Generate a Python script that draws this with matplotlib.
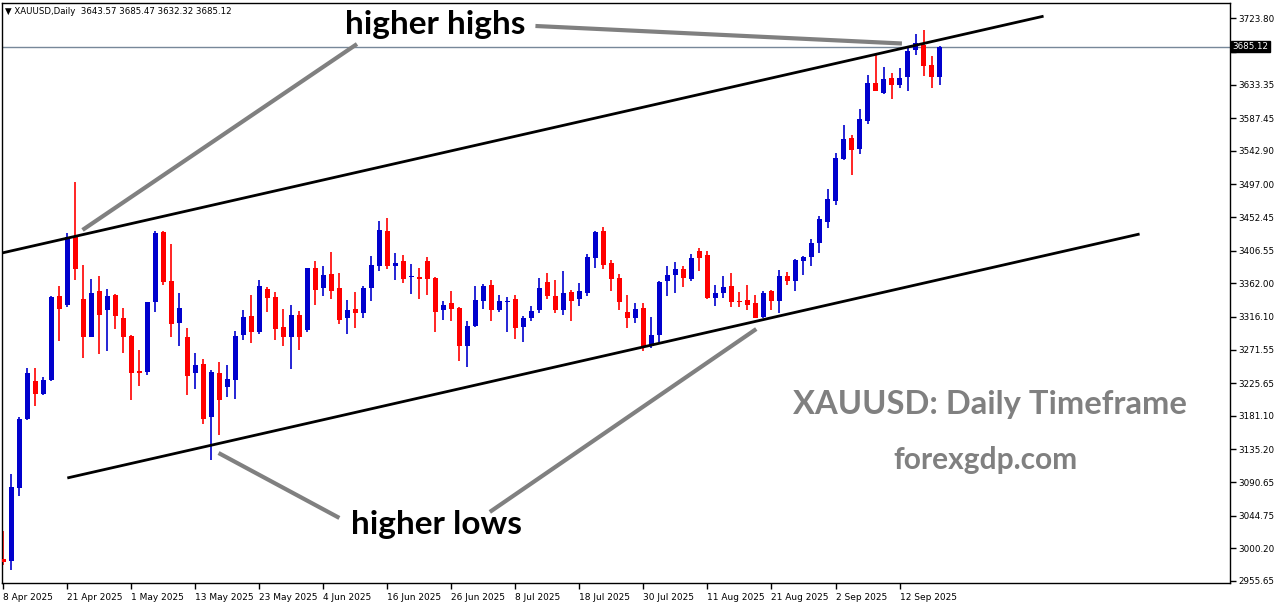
import matplotlib
matplotlib.use("Agg")
import matplotlib.pyplot as plt
import numpy as np

# XAUUSD daily candles, 8 Apr 2025 .. 19 Sep 2025
opens = [2986, 2983, 3083, 3177, 3229, 3211, 3230, 3345, 3332, 3425,
         3341, 3289, 3352, 3326, 3346, 3315, 3290, 3242, 3241, 3336,
         3432, 3365, 3308, 3289, 3239, 3252, 3180, 3240, 3220, 3230,
         3291, 3318, 3295, 3354, 3343, 3302, 3288, 3319, 3298, 3383,
         3355, 3375, 3356, 3315, 3327, 3322, 3356, 3385, 3433, 3386,
         3393, 3370, 3371, 3393, 3369, 3325, 3335, 3328, 3276, 3304,
         3338, 3360, 3326, 3336, 3341, 3303, 3315, 3325, 3364, 3345,
         3325, 3350, 3341, 3349, 3397, 3433, 3390, 3369, 3323, 3315,
         3328, 3276, 3291, 3365, 3373, 3382, 3368, 3406, 3401, 3342,
         3349, 3358, 3338, 3339, 3335, 3316, 3352, 3338, 3372, 3365,
         3393, 3398, 3417, 3446, 3475, 3532, 3560, 3546, 3583, 3636,
         3622, 3642, 3633, 3644, 3680, 3687, 3660, 3643.57]
highs = [3024, 3102, 3180, 3246, 3246, 3234, 3345, 3358, 3431, 3500,
         3387, 3368, 3372, 3354, 3348, 3328, 3291, 3271, 3337, 3434,
         3434, 3416, 3349, 3301, 3267, 3259, 3244, 3254, 3251, 3297,
         3326, 3346, 3367, 3357, 3350, 3327, 3332, 3324, 3383, 3393,
         3386, 3405, 3376, 3339, 3350, 3358, 3399, 3447, 3451, 3403,
         3401, 3388, 3383, 3398, 3371, 3338, 3352, 3329, 3311, 3358,
         3361, 3367, 3346, 3343, 3346, 3318, 3331, 3369, 3376, 3367,
         3379, 3353, 3362, 3402, 3433, 3439, 3394, 3375, 3346, 3335,
         3335, 3316, 3365, 3386, 3391, 3386, 3402, 3410, 3406, 3360,
         3372, 3376, 3350, 3360, 3346, 3352, 3353, 3380, 3377, 3395,
         3399, 3423, 3454, 3491, 3540, 3578, 3565, 3600, 3646, 3674,
         3657, 3649, 3656, 3685, 3702, 3708, 3672, 3685.47]
lows = [2978, 2971, 3072, 3176, 3194, 3210, 3228, 3283, 3329, 3367,
        3260, 3288, 3265, 3269, 3300, 3267, 3202, 3222, 3237, 3323,
        3360, 3289, 3276, 3209, 3217, 3170, 3121, 3155, 3207, 3204,
        3285, 3280, 3293, 3323, 3285, 3277, 3245, 3271, 3296, 3333,
        3344, 3340, 3307, 3293, 3301, 3315, 3338, 3379, 3382, 3366,
        3363, 3348, 3340, 3346, 3296, 3312, 3310, 3256, 3248, 3303,
        3327, 3311, 3323, 3296, 3286, 3282, 3310, 3322, 3341, 3321,
        3319, 3310, 3331, 3345, 3383, 3382, 3352, 3325, 3301, 3308,
        3269, 3274, 3282, 3345, 3349, 3357, 3365, 3379, 3341, 3331,
        3342, 3330, 3330, 3325, 3315, 3314, 3325, 3322, 3360, 3351,
        3373, 3385, 3404, 3437, 3469, 3531, 3510, 3539, 3579, 3624,
        3620, 3613, 3629, 3625, 3674, 3645, 3628, 3632.32]
closes = [2982, 3084, 3177, 3239, 3211, 3230, 3343, 3327, 3425, 3381,
          3288, 3349, 3319, 3345, 3318, 3288, 3239, 3240, 3336, 3431,
          3364, 3306, 3328, 3235, 3251, 3177, 3241, 3202, 3231, 3290,
          3316, 3295, 3358, 3342, 3300, 3289, 3319, 3289, 3383, 3353,
          3373, 3352, 3312, 3326, 3322, 3356, 3387, 3435, 3385, 3390,
          3368, 3372, 3368, 3368, 3323, 3332, 3327, 3276, 3304, 3339,
          3358, 3326, 3338, 3337, 3301, 3315, 3324, 3356, 3344, 3325,
          3349, 3338, 3352, 3398, 3432, 3387, 3368, 3337, 3314, 3327,
          3276, 3291, 3364, 3373, 3382, 3369, 3397, 3397, 3342, 3349,
          3357, 3336, 3336, 3333, 3315, 3349, 3338, 3372, 3365, 3394,
          3398, 3417, 3450, 3477, 3533, 3559, 3544, 3586, 3636, 3625,
          3641, 3633, 3642, 3679, 3690, 3659, 3643, 3685.12]

date_ticks = ["8 Apr 2025", "21 Apr 2025", "1 May 2025", "13 May 2025", "23 May 2025",
              "4 Jun 2025", "16 Jun 2025", "26 Jun 2025", "8 Jul 2025", "18 Jul 2025",
              "30 Jul 2025", "11 Aug 2025", "21 Aug 2025", "2 Sep 2025", "12 Sep 2025"]
price_ticks = [3723.80, 3677.90, 3633.35, 3587.45, 3542.90, 3497.00, 3452.45, 3406.55,
               3362.00, 3316.10, 3271.55, 3225.65, 3181.10, 3135.20, 3090.65, 3044.75,
               3000.20, 2955.65]

# channel lines (bar index, price) and pointer lines
upper_channel = ([-1, 130], [3401.3, 3726.7])
lower_channel = ([8, 142], [3096.2, 3429.3])
pointers = [([9.9, 44.2], [3434.8, 3688.7]),
            ([66.5, 112.3], [3713.3, 3689.4]),
            ([26.9, 42.0], [3130.3, 3041.6]),
            ([60.8, 94.1], [3049.8, 3299.6])]

last_price = 3685.12

fig = plt.figure(figsize=(12.76, 6.04), dpi=100)
ax = fig.add_axes([2.3 / 1276, 21 / 604, (1230 - 2.3) / 1276, (583 - 2.7) / 604])

o = np.array(opens); h = np.array(highs); l = np.array(lows); c = np.array(closes)
x = np.arange(len(o))
up = c >= o
col = np.where(up, "#0000CD", "#FF0000")

ax.vlines(x, l, h, colors=col, linewidth=1.2, zorder=2)
body_lo = np.minimum(o, c)
body_h = np.maximum(np.abs(c - o), 1.2)
ax.bar(x, body_h, bottom=body_lo, width=0.62, color=col, linewidth=0, zorder=3)

ax.axhline(last_price, color="#778899", linewidth=1, zorder=1)

ax.plot(*upper_channel, color="black", linewidth=2, zorder=4, solid_capstyle="butt")
ax.plot(*lower_channel, color="black", linewidth=2, zorder=4, solid_capstyle="butt")
for px, py in pointers:
    ax.plot(px, py, color="#808080", linewidth=3, zorder=4, solid_capstyle="butt")

font = ["Lato", "DejaVu Sans"]
ax.text(54.0, 3716, "higher highs", fontsize=24, fontweight="bold", family=font,
        ha="center", va="center", color="black", zorder=5)
ax.text(54.1, 3032, "higher lows", fontsize=24, fontweight="bold", family=font,
        ha="center", va="center", color="black", zorder=5)
ax.text(123.3, 3197, "XAUUSD: Daily Timeframe", fontsize=23.6, fontweight="bold",
        family=font, ha="center", va="center", color="#808080", zorder=5)
ax.text(122.7, 3121, "forexgdp.com", fontsize=21.5, fontweight="bold", family=font,
        ha="center", va="center", color="#808080", zorder=5)

ax.text(0.002, 0.993, "\u25BC XAUUSD,Daily  %.2f %.2f %.2f %.2f" % (opens[-1], highs[-1], lows[-1], closes[-1]),
        transform=ax.transAxes, fontsize=6.2, ha="left", va="top", color="black")

ax.set_xlim(-0.125, 153.3)
ax.set_ylim(2952.8, 3745.1)

# the 3677.90 label sits under the last-price tag, so only its tick is drawn
ax.yaxis.tick_right()
ax.set_yticks(price_ticks)
ax.set_yticklabels(["" if v == 3677.90 else "%.2f" % v for v in price_ticks], fontsize=6.3)
ax.set_xticks(np.arange(len(date_ticks)) * 8)
ax.set_xticklabels(date_ticks, fontsize=6.5, ha="left")
ax.tick_params(axis="both", direction="out", length=4, width=1, colors="black", pad=2)
ax.tick_params(axis="x", pad=3)

for s in ax.spines.values():
    s.set_color("black")
    s.set_linewidth(1)

ax.text(1.002, last_price, "%.2f" % last_price, transform=ax.get_yaxis_transform(),
        fontsize=6.3, color="white", ha="left", va="center", zorder=6,
        bbox=dict(boxstyle="square,pad=0.15", facecolor="black", edgecolor="black"))

fig.savefig("out.png", dpi=100)
